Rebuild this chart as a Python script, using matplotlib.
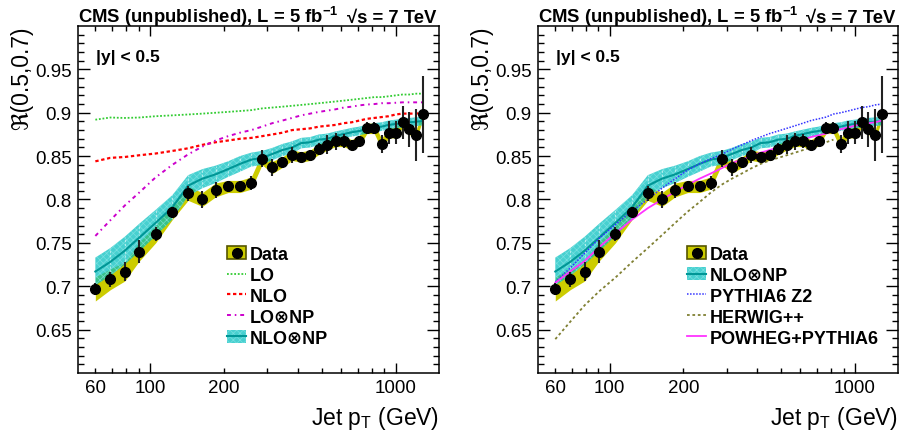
import numpy as np
import matplotlib
matplotlib.use('Agg')
import matplotlib.pyplot as plt
from matplotlib.patches import Patch
from matplotlib.lines import Line2D
from matplotlib.ticker import FixedLocator, FuncFormatter

plt.rcParams['font.family'] = ['Liberation Sans', 'DejaVu Sans']
plt.rcParams['mathtext.fontset'] = 'custom'
plt.rcParams['mathtext.rm'] = 'Liberation Sans'
plt.rcParams['mathtext.bf'] = 'Liberation Sans:bold'
plt.rcParams['mathtext.it'] = 'Liberation Sans:italic'
plt.rcParams['hatch.linewidth'] = 0.5

# jet pT bin centres (GeV)
pt = [60, 69, 79, 90.5, 105.5, 123.5, 143, 163.5, 185, 208, 232.5, 258.5, 286, 315, 346, 378.5,
      412.5, 449, 487.5, 527.5, 570, 615, 662, 711.5, 763.5, 818, 875.5, 936, 999.5, 1066.5,
      1136.5, 1210, 1287.5]

# measured ratio R(0.5,0.7)
data = [0.697, 0.708, 0.717, 0.740, 0.760, 0.786, 0.807, 0.800, 0.811, 0.815, 0.815, 0.819,
        0.847, 0.837, 0.843, 0.851, 0.849, 0.851, 0.858, 0.863, 0.867, 0.867, 0.863, 0.868,
        0.882, 0.882, 0.864, 0.877, 0.877, 0.889, 0.881, 0.874, 0.898]
data_stat = [0.007, 0.009, 0.011, 0.013, 0.008, 0.005, 0.009, 0.010, 0.009, 0.006, 0.006, 0.008,
             0.010, 0.010, 0.006, 0.009, 0.006, 0.006, 0.007, 0.011, 0.010, 0.008, 0.006, 0.005,
             0.007, 0.007, 0.010, 0.013, 0.013, 0.019, 0.020, 0.030, 0.044]
data_sys = [0.014, 0.012, 0.011, 0.011, 0.010, 0.009, 0.008, 0.008, 0.008, 0.007, 0.007, 0.007,
            0.007, 0.007, 0.006, 0.006, 0.006, 0.006, 0.006, 0.006, 0.006, 0.006, 0.006, 0.006,
            0.006, 0.006, 0.006, 0.006, 0.006, 0.006, 0.006, 0.006, 0.006]

# theory
lo = [0.892, 0.8945, 0.894, 0.8945, 0.896, 0.897, 0.898, 0.899, 0.900, 0.901, 0.902, 0.903,
      0.905, 0.906, 0.907, 0.908, 0.909, 0.910, 0.911, 0.912, 0.913, 0.914, 0.915, 0.916,
      0.917, 0.918, 0.918, 0.919, 0.920, 0.921, 0.921, 0.922, 0.922]
nlo = [0.844, 0.848, 0.849, 0.851, 0.853, 0.856, 0.859, 0.863, 0.866, 0.868, 0.870, 0.871,
       0.873, 0.875, 0.877, 0.880, 0.881, 0.882, 0.884, 0.885, 0.886, 0.888, 0.889, 0.891,
       0.893, 0.894, 0.895, 0.896, 0.898, 0.899, 0.899, 0.899, 0.900]
lo_np = [0.758, 0.776, 0.793, 0.808, 0.8255, 0.840, 0.852, 0.861, 0.868, 0.873, 0.877, 0.880,
         0.884, 0.888, 0.891, 0.894, 0.897, 0.899, 0.901, 0.9025, 0.904, 0.906, 0.907, 0.9085,
         0.9095, 0.910, 0.911, 0.911, 0.9115, 0.912, 0.912, 0.912, 0.912]
nlo_np = [0.717, 0.728, 0.741, 0.756, 0.773, 0.791, 0.816, 0.824, 0.829, 0.835, 0.841, 0.846,
          0.848, 0.8525, 0.857, 0.860, 0.865, 0.866, 0.869, 0.870, 0.8735, 0.8755, 0.8775, 0.879,
          0.881, 0.883, 0.884, 0.886, 0.887, 0.888, 0.889, 0.8897, 0.8905]
nlo_np_err = [0.016, 0.016, 0.016, 0.016, 0.015, 0.014, 0.012, 0.011, 0.010, 0.009, 0.009, 0.008,
              0.008, 0.007, 0.007, 0.007, 0.006, 0.006, 0.006, 0.006, 0.005, 0.005, 0.005, 0.005,
              0.005, 0.005, 0.005, 0.005, 0.005, 0.005, 0.005, 0.005, 0.005]

# MC generators
pythia_z2 = [0.705, 0.721, 0.738, 0.755, 0.771, 0.787, 0.800, 0.813, 0.824, 0.834, 0.841, 0.847,
             0.852, 0.858, 0.863, 0.868, 0.872, 0.876, 0.879, 0.882, 0.885, 0.888, 0.891, 0.893,
             0.895, 0.8985, 0.900, 0.902, 0.904, 0.906, 0.907, 0.909, 0.910]
herwig = [0.639, 0.659, 0.678, 0.694, 0.710, 0.728, 0.744, 0.759, 0.773, 0.786, 0.797, 0.808,
          0.817, 0.824, 0.830, 0.836, 0.841, 0.845, 0.848, 0.851, 0.854, 0.857, 0.860, 0.863,
          0.866, 0.869]
powheg = [0.704, 0.717, 0.729, 0.745, 0.761, 0.777, 0.790, 0.800, 0.809, 0.817, 0.824, 0.830,
          0.836, 0.842, 0.846, 0.850, 0.854, 0.857, 0.860, 0.864, 0.866, 0.869, 0.872, 0.874,
          0.876, 0.879, 0.881, 0.883, 0.885, 0.887, 0.888, 0.889, 0.891]

y_ticks = [0.65, 0.7, 0.75, 0.8, 0.85, 0.9, 0.95]
x_major = [100, 1000]
x_labeled = [60, 100, 200, 1000]

YELLOW = '#cccc00'
TEAL_FILL = '#00bfbf'
TEAL_LINE = '#009696'

pt = np.array(pt)
data = np.array(data)
nlo_np = np.array(nlo_np)
nlo_np_err = np.array(nlo_np_err)


def frame(ax):
    ax.set_xscale('log')
    ax.set_xlim(51, 1500)
    ax.set_ylim(0.6, 1.0)
    minors = [m * d for d in (10, 100) for m in range(2, 10) if 51 < m * d < 1500]
    ax.xaxis.set_major_locator(FixedLocator(x_major))
    ax.xaxis.set_minor_locator(FixedLocator(minors))
    ax.xaxis.set_major_formatter(FuncFormatter(lambda v, p: '%g' % v))
    ax.xaxis.set_minor_formatter(FuncFormatter(lambda v, p: '%g' % v if round(v) in x_labeled else ''))
    ax.yaxis.set_major_locator(FixedLocator(y_ticks))
    ax.yaxis.set_minor_locator(FixedLocator(np.arange(0.61, 1.0, 0.01)))
    ax.yaxis.set_major_formatter(FuncFormatter(lambda v, p: '%g' % v))
    ax.tick_params(which='both', direction='in', top=True, right=True, labelsize=13.5, width=1)
    ax.tick_params(axis='y', which='major', length=8.5, pad=4.5)
    ax.tick_params(axis='y', which='minor', length=4.5)
    ax.tick_params(axis='x', which='major', length=7, pad=4)
    ax.tick_params(axis='x', which='minor', length=3.6, pad=4)
    for s in ax.spines.values():
        s.set_linewidth(1.1)

    ax.set_ylabel('ℜ(0.5,0.7)', fontsize=16.5, loc='top')
    ax.yaxis.set_label_coords(-0.125, 1.0)
    ax.set_xlabel('Jet p$_\\mathregular{T}$ (GeV)', fontsize=16.5, loc='right')
    ax.xaxis.set_label_coords(1.0, -0.089)

    ax.text(0, 1.0124, 'CMS (unpublished), L = 5 fb$^{\\mathbf{-1}}$', transform=ax.transAxes,
            fontsize=13.3, weight='bold', va='baseline', ha='left')
    ax.text(0.992, 1.0124, '√s = 7 TeV', transform=ax.transAxes,
            fontsize=13.3, weight='bold', va='baseline', ha='right')
    ax.text(0.05, 0.898, '|y| < 0.5', transform=ax.transAxes, fontsize=12.5, weight='bold',
            va='baseline')


def draw_data(ax):
    ax.fill_between(pt, data - np.array(data_sys), data + np.array(data_sys), color=YELLOW,
                    lw=0, zorder=1)
    ax.errorbar(pt, data, yerr=data_stat, fmt='o', color='black', ecolor='#222222', ms=7,
                elinewidth=1.5, capsize=0, zorder=10)


def draw_nlo_np(ax):
    low = nlo_np - nlo_np_err
    high = nlo_np + nlo_np_err
    ax.fill_between(pt, low, high, facecolor=TEAL_FILL, edgecolor='#8ae6e6', hatch='xxxxx',
                    lw=0, alpha=0.72, zorder=2)
    ax.vlines(pt[1:-1], low[1:-1], high[1:-1], colors='white', lw=0.8, alpha=0.55,
              linestyles=(0, (2, 1.5)), zorder=2)
    ax.plot(pt, nlo_np, color=TEAL_LINE, lw=1.5, zorder=3)


def handles_common():
    data_h = (Patch(facecolor=YELLOW, edgecolor='#555500', lw=1.2),
              Line2D([], [], marker='o', color='black', ms=7, ls='none'))
    nlonp_h = (Patch(facecolor=TEAL_FILL, edgecolor='#8ae6e6', hatch='xxxxx', lw=0, alpha=0.72),
               Line2D([], [], color=TEAL_LINE, lw=1.5))
    return data_h, nlonp_h


def put_legend(ax, handles, labels, x0):
    ax.legend(handles, labels, loc='upper left', bbox_to_anchor=(x0, 0.366), frameon=False,
              prop={'weight': 'bold', 'size': 13}, handlelength=1.05, handleheight=0.75,
              handletextpad=0.2, labelspacing=0.22, borderpad=0, borderaxespad=0)


fig = plt.figure(figsize=(9.02, 4.35), dpi=100)
fig.patch.set_facecolor('white')
ax1 = fig.add_axes([78 / 902, 61 / 435, 361 / 902, 347 / 435])
ax2 = fig.add_axes([538 / 902, 61 / 435, 360 / 902, 347 / 435])

# left: fixed order calculations
frame(ax1)
draw_data(ax1)
draw_nlo_np(ax1)
l_lo, = ax1.plot(pt, lo, color='#33cc33', lw=1.3, ls=(0, (1, 1)), zorder=4)
l_nlo, = ax1.plot(pt, nlo, color='red', lw=1.6, ls=(0, (1.5, 1.2)), zorder=4)
l_lonp, = ax1.plot(pt, lo_np, color='#cc00cc', lw=1.4, ls=(0, (2, 2, 0.8, 2)), zorder=4)
data_h, nlonp_h = handles_common()
put_legend(ax1, [data_h, l_lo, l_nlo, l_lonp, nlonp_h],
           ['Data', 'LO', 'NLO', 'LO⊗NP', 'NLO⊗NP'], 0.413)

# right: MC generators
frame(ax2)
draw_data(ax2)
draw_nlo_np(ax2)
l_py, = ax2.plot(pt, pythia_z2, color='#3333ff', lw=1.1, ls=(0, (1, 1)), zorder=4)
l_hw, = ax2.plot(pt[:len(herwig)], herwig, color='#808033', lw=1.3, ls=(0, (1.5, 1.5)), zorder=4)
l_pw, = ax2.plot(pt, powheg, color='#ff33ff', lw=1.3, zorder=4)
data_h, nlonp_h = handles_common()
put_legend(ax2, [data_h, nlonp_h, l_py, l_hw, l_pw],
           ['Data', 'NLO⊗NP', 'PYTHIA6 Z2', 'HERWIG++', 'POWHEG+PYTHIA6'], 0.415)

fig.savefig('out.png', dpi=100)
